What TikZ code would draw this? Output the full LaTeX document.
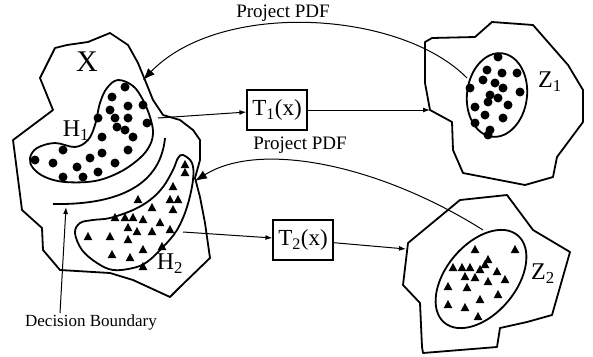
\documentclass[tikz,border=0pt]{standalone}
\usepackage{fontspec}
\setmainfont{Liberation Serif}
\usetikzlibrary{arrows.meta}

\begin{document}
\begin{tikzpicture}[x=1pt, y=-1pt,
    every node/.style={font=\fontsize{19}{22}\selectfont, inner sep=1pt},
    region/.style={line width=1.8pt, line join=round},
    blob/.style={line width=1.8pt},
    tbox/.style={rectangle, draw, line width=1.2pt, minimum width=60pt,
                 minimum height=40pt, inner sep=0pt,
                 font=\fontsize{23}{26}\selectfont},
    big/.style={font=\fontsize{30}{32}\selectfont},
    lbl/.style={font=\fontsize{24}{27}\selectfont},
    small/.style={font=\fontsize{17}{20}\selectfont},
    e/.style={line width=1pt, -{Latex[length=7pt, width=5pt]}},
    ep/.style={line width=1pt, -{Latex[length=12pt, width=9pt]}},
  ]
  \useasboundingbox (0,0) rectangle (593,356);

  \draw[region] (13,140) -- (22,210) -- (42,228) -- (43,250) -- (60,270)
    -- (110,273) -- (133,280) -- (170,297) -- (180,287) -- (210,258)
    -- (205,223) -- (200,197) -- (195,178) -- (200,160) -- (200,140)
    -- (193,130) -- (180,120) -- (163,115) -- (153,100) -- (147,85)
    -- (138,63) -- (128,45) -- (110,33) -- (88,42) -- (67,45) -- (55,48)
    -- (40,78) -- (53,110) -- cycle;
  \draw[region] (425,42) -- (432,38) -- (475,37) -- (492,22) -- (533,25)
    -- (568,65) -- (583,90) -- (583,122) -- (557,157) -- (553,177)
    -- (525,185) -- (463,173) -- (453,150) -- (452,122) -- (430,110)
    -- (425,83) -- cycle;
  \draw[region] (408,243) -- (460,200) -- (507,195) -- (533,230)
    -- (570,252) -- (552,315) -- (527,322) -- (500,328) -- (497,347)
    -- (423,353) -- (422,347) -- (420,303) -- (403,285) -- cycle;

  \draw[blob] plot[smooth cycle, tension=0.6] coordinates {
    (118,80) (133,86) (143,100) (150,117) (153,132) (150,145) (140,158)
    (120,172) (95,181) (65,182) (45,177) (33,168) (30,158) (37,148)
    (55,143) (75,147) (88,140) (95,125) (100,103) (107,88)};
  \draw[blob] plot[smooth cycle, tension=0.6] coordinates {
    (183,155) (192,163) (193,180) (187,207) (177,230) (163,247) (147,262)
    (133,268) (113,270) (97,263) (82,250) (75,233) (80,223) (93,220)
    (110,218) (133,210) (150,200) (163,187) (173,170) (178,158)};
  \draw[blob] (53,204) .. controls (110,205) and (160,190) .. (165,138);
  \draw[blob, rotate around={-7:(497,95)}] (497,95) ellipse [x radius=30, y radius=42];
  \draw[blob, rotate around={50:(481,279)}] (481,279) ellipse [x radius=57, y radius=35];

  \foreach \x/\y in {125/87, 112/97, 143/105, 128/106, 110/110, 115/118,
      128/118, 98/118, 147/123, 117/127, 125/130, 133/137, 102/137,
      35/160, 53/163, 63/150, 77/167, 90/158, 102/153, 115/163, 128/150,
      63/177, 83/177, 98/172, 498/57, 487/70, 502/73, 517/73, 483/80,
      495/83, 503/88, 470/88, 520/92, 490/95, 498/98, 488/102, 508/105,
      475/107, 485/115, 503/118, 475/123, 490/130, 488/135}
    \fill (\x,\y) circle[radius=4.5pt];
  \foreach \x/\y in {185/165, 185/173, 173/187, 170/200, 178/200, 173/210,
      138/200, 152/208, 115/218, 125/218, 133/218, 143/220, 160/223,
      128/228, 137/232, 152/232, 170/230, 88/237, 110/237, 128/240,
      162/247, 143/250, 112/255, 130/258, 143/267, 475/250, 515/250,
      488/260, 485/265, 453/268, 462/268, 470/268, 480/270, 497/272,
      465/277, 475/278, 488/282, 505/280, 448/287, 467/288, 498/295,
      480/300, 448/305, 465/308, 478/317}
    \fill (\x,\y) +(0,-5) -- +(4.3,3) -- +(-4.3,3) -- cycle;

  \node[tbox] (t1) at (277,110) {T\textsubscript{1}(x)};
  \node[tbox] (t2) at (303,240) {T\textsubscript{2}(x)};
  \node[big] (xl) at (87,62) {X};
  \node[lbl] (h1) at (76,131) {H\textsubscript{1}};
  \node[lbl] (h2) at (170,264) {H\textsubscript{2}};
  \node[lbl] (z1) at (550,82) {Z\textsubscript{1}};
  \node[lbl] (z2) at (543,274) {Z\textsubscript{2}};
  \node (pp1) at (283,13) {Project PDF};
  \node (pp2) at (300,145) {Project PDF};
  \node[small] (dbl) at (91,322) {Decision Boundary};

  \coordinate (xa) at (158,118);
  \coordinate (xb) at (183,232);
  \coordinate (z1in) at (430,110);
  \coordinate (z2in) at (406,249);
  \coordinate (z1e) at (467,78);
  \coordinate (z2e) at (483,230);
  \coordinate (xtop) at (143,80);
  \coordinate (xh2) at (195,181);
  \coordinate (db) at (66,207);

  \draw[e] (xa) -- (t1);
  \draw[e] (t1) -- (z1in);
  \draw[e] (xb) -- (t2);
  \draw[e] (t2) -- (z2in);
  \draw[ep] (z1e) .. controls (400,10) and (220,0) .. (xtop);
  \draw[ep] (z2e) .. controls (380,165) and (260,140) .. (xh2);
  \draw[e] ([xshift=-31pt]dbl.north) -- (db);
\end{tikzpicture}
\end{document}
